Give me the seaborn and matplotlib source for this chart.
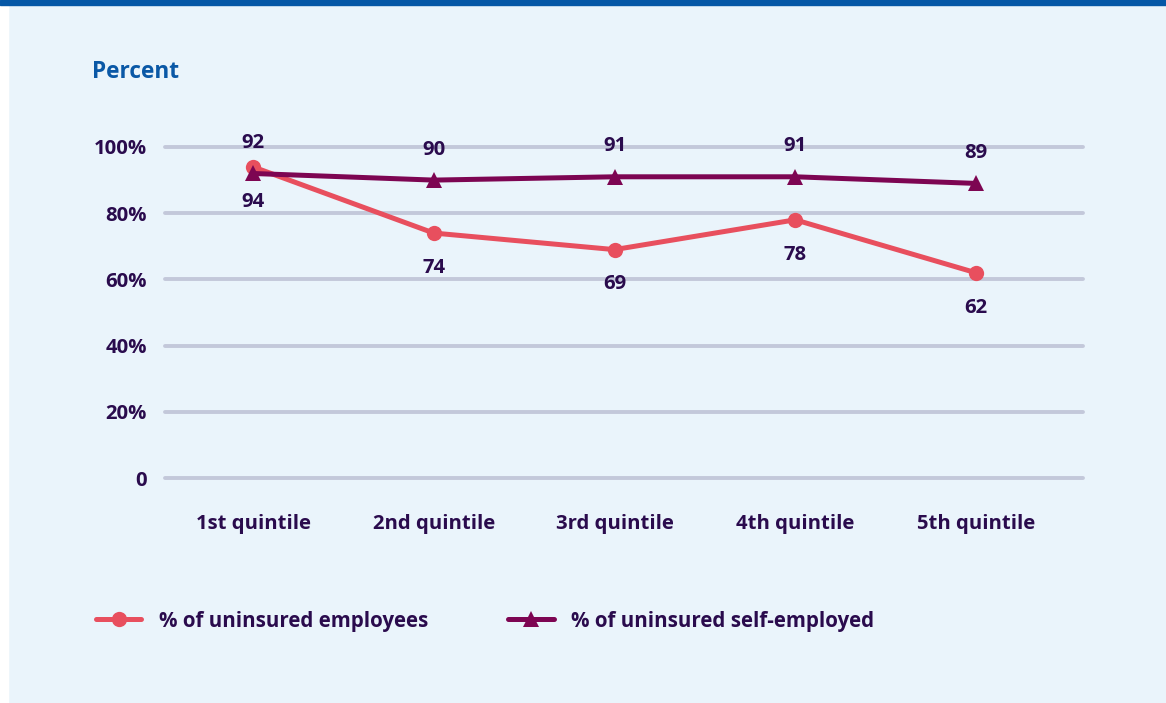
import matplotlib
matplotlib.use("Agg")
import matplotlib.pyplot as plt
from matplotlib.patches import Rectangle
import seaborn as sns
import pandas as pd

quintiles = ["1st quintile", "2nd quintile", "3rd quintile", "4th quintile", "5th quintile"]
employees = [94, 74, 69, 78, 62]
self_employed = [92, 90, 91, 91, 89]
series_names = ["% of uninsured employees", "% of uninsured self-employed"]
y_ticks = [0, 20, 40, 60, 80, 100]
y_tick_labels = ["0", "20%", "40%", "60%", "80%", "100%"]

TEXT = "#2a0b4d"
RED = "#e84f5e"
PURPLE = "#7d0552"
GRID = "#c3c8da"
BG = "#eaf4fb"
TITLE = "#0a58a6"
FS = 14.6

df = pd.DataFrame({
    "quintile": quintiles * 2,
    "idx": list(range(len(quintiles))) * 2,
    "value": employees + self_employed,
    "series": [series_names[0]] * len(quintiles) + [series_names[1]] * len(quintiles),
})

sns.set_theme(style="white")
plt.rcParams["font.family"] = ["Open Sans", "DejaVu Sans"]
plt.rcParams["font.weight"] = "bold"

W, H = 1166, 703
fig = plt.figure(figsize=(W / 100, H / 100), dpi=100, facecolor=BG)

# frame: white left margin and blue top band
fig.patches.append(Rectangle((0, 0), 8 / W, 1, transform=fig.transFigure, color="white", zorder=0))
fig.patches.append(Rectangle((0, 1 - 5 / H), 1, 5 / H, transform=fig.transFigure, color="#0557a6", zorder=0))

ppu = (478 - 147) / 100.0
y0, y1 = -2, 102
bottom_px = 478 + (0 - y0) * ppu
top_px = 147 - (y1 - 100) * ppu
ax = fig.add_axes([165 / W, 1 - bottom_px / H, (1083 - 165) / W, (bottom_px - top_px) / H])
ax.set_facecolor(BG)

for yt in y_ticks:
    ax.axhline(yt, color=GRID, lw=2.8, zorder=0)

sns.lineplot(
    data=df, x="idx", y="value", hue="series", style="series",
    palette=[RED, PURPLE], markers=["o", "^"], dashes=False,
    linewidth=3.6, markersize=11, markeredgewidth=0, ax=ax, zorder=3,
    legend=True,
)
for ln in ax.lines:
    ln.set_clip_on(False)

step_px = (976 - 253) / 4.0
ax.set_xlim((165 - 253) / step_px, (1083 - 253) / step_px)
ax.set_ylim(y0, y1)

for i, v in enumerate(employees):
    ax.annotate(str(v), (i, v), xytext=(0, -25), textcoords="offset points",
                ha="center", va="center", fontsize=FS, fontweight="bold", color=TEXT)
for i, v in enumerate(self_employed):
    ax.annotate(str(v), (i, v), xytext=(0, 22), textcoords="offset points",
                ha="center", va="center", fontsize=FS, fontweight="bold", color=TEXT)

ax.set_xticks(range(len(quintiles)))
ax.set_xticklabels(quintiles)
ax.set_yticks(y_ticks)
ax.set_yticklabels(y_tick_labels)
ax.tick_params(axis="x", length=0, pad=21, labelsize=FS, labelcolor=TEXT)
ax.tick_params(axis="y", length=0, pad=13, labelsize=FS, labelcolor=TEXT)
for lab in ax.get_xticklabels() + ax.get_yticklabels():
    lab.set_fontweight("bold")
ax.set_xlabel("")
ax.set_ylabel("")
for s in ax.spines.values():
    s.set_visible(False)

fig.text(92 / W, 1 - 72 / H, "Percent", ha="left", va="center",
         fontsize=16.3, fontweight="bold", color=TITLE)

handles, labels = ax.get_legend_handles_labels()
ax.get_legend().remove()
leg = fig.legend(handles, labels, loc="center left", bbox_to_anchor=(88 / W, 1 - 621 / H),
                 ncol=2, frameon=False, fontsize=14.8, handlelength=2.2,
                 handletextpad=0.85, columnspacing=3.9, borderaxespad=0)
for t in leg.get_texts():
    t.set_color(TEXT)
    t.set_fontweight("bold")
for lh in leg.legend_handles:
    lh.set_linewidth(3.6)
    lh.set_markersize(11)

fig.savefig("out.png", dpi=100, facecolor=BG)
